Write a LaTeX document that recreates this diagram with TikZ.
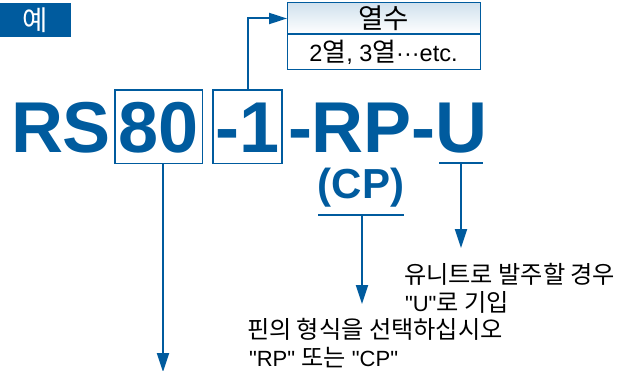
\documentclass[tikz,border=0pt]{standalone}
\usepackage{fontspec}
\setmainfont{Liberation Sans}[Ligatures=TeXOff]
\newfontfamily\kr{Noto Sans CJK KR}[Scale=1.1]
\usetikzlibrary{arrows.meta,calc}
\definecolor{cblue}{RGB}{0,91,158}
\begin{document}
\begin{tikzpicture}[x=1pt,y=-1pt,
  big/.style={font=\fontsize{72}{72}\selectfont\bfseries, text=cblue, inner sep=0pt, outer sep=0pt},
  partbox/.style={big, draw=cblue, line width=1.1pt, text height=52.5pt, text depth=0pt, inner ysep=10.5pt},
  conn/.style={draw=cblue, line width=2pt},
  arr/.style={conn, -{Triangle[length=19pt,width=12pt]}},
  note/.style={font=\fontsize{22}{28}\selectfont, inner sep=0pt, outer sep=0pt, anchor=base west, text=black},
  cell/.style={draw=cblue, line width=1pt, minimum width=193pt, inner sep=0pt, outer sep=0pt}
]
\useasboundingbox (0,0) rectangle (628,371);

\node[fill=cblue, minimum width=71pt, minimum height=34pt, inner sep=0pt, text=white, font=\kr\fontsize{25}{25}\selectfont] (ex) at (35.5,20) {예};

\node[big, anchor=base west] (rs) at (11,153) {RS};
\node[partbox, inner xsep=3.5pt, anchor=base west] (n80) at (115,153) {80};
\node[partbox, inner xsep=2.5pt, anchor=base west] (n1) at (213,153) {-1};
\node[big, anchor=base west] (rp) at (288,153) {-RP-};
\node[big, anchor=base west] (u) at (rp.base east) {U};
\node[big, font=\fontsize{42}{42}\selectfont\bfseries, anchor=base] (cp) at (361,199) {(CP)};

\node[cell, minimum height=31pt, top color=cblue!18, bottom color=white, anchor=north west, font=\fontsize{25}{25}\selectfont] (hdr) at (287,3) {\kr 열수};
\node[cell, minimum height=36pt, anchor=north west, font=\fontsize{23.5}{24}\selectfont] (body) at (287,34) {2{\kr 열}, 3{\kr 열}···etc.};
\draw[cblue, line width=2pt] (hdr.south west) -- (hdr.south east);

\draw[conn, -{Triangle[length=18pt,width=11pt]}] (n1.north) |- (hdr.west);

\coordinate (a80) at (163,372);
\draw[arr] (n80.south -| a80) -- (a80);

\coordinate (cpL) at (318,215);
\coordinate (cpR) at (404,215);
\coordinate (cpM) at (362,215);
\coordinate (cpT) at (362,304);
\draw[conn] (cpL) -- (cpR);
\draw[arr] (cpM) -- (cpT);

\coordinate (uL) at (439,163);
\coordinate (uR) at (483,163);
\coordinate (uM) at (461,163);
\coordinate (uT) at (461,248);
\draw[conn] (uL) -- (uR);
\draw[arr] (uM) -- (uT);

\node[note] (t1a) at (404,283) {\kr 유니트로 발주할 경우};
\node[note] (t1b) at (405,311) {"U"{\kr 로 기입}};
\node[note] (t2a) at (247,338) {\kr 핀의 형식을 선택하십시오};
\node[note] (t2b) at (249,366) {"RP" {\kr 또는} "CP"};
\end{tikzpicture}
\end{document}
